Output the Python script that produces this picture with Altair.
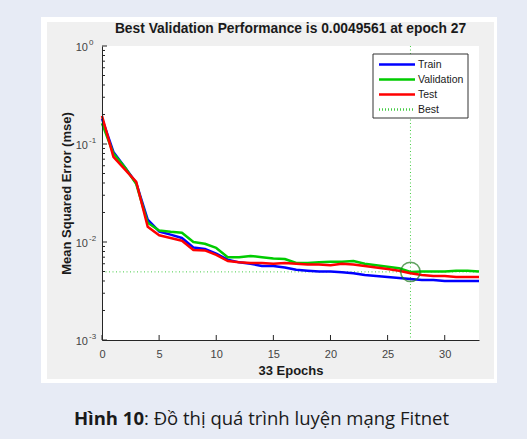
import altair as alt
import pandas as pd

# ---------------- data ----------------
epochs = list(range(34))
train = [0.182, 0.083, 0.058, 0.040, 0.0169, 0.0128, 0.0119, 0.0110, 0.0088, 0.0085,
         0.0076, 0.0066, 0.0062, 0.0060, 0.0057, 0.0057, 0.0055, 0.0052, 0.0051, 0.0050,
         0.0050, 0.0049, 0.0048, 0.0046, 0.0045, 0.0044, 0.0043, 0.0042, 0.0041, 0.0041,
         0.0040, 0.0040, 0.0040, 0.0040]
validation = [0.163, 0.080, 0.058, 0.039, 0.0157, 0.0131, 0.0127, 0.0124, 0.0100, 0.0096,
              0.0087, 0.0070, 0.0070, 0.0072, 0.0070, 0.0068, 0.0067, 0.0061, 0.0061, 0.0062,
              0.0063, 0.0063, 0.0064, 0.0060, 0.0058, 0.0056, 0.0054, 0.0049561, 0.0050, 0.0050,
              0.0050, 0.0051, 0.0051, 0.0050]
test = [0.194, 0.074, 0.055, 0.041, 0.0143, 0.0117, 0.0110, 0.0103, 0.0083, 0.0082,
        0.0074, 0.0064, 0.0062, 0.0061, 0.0061, 0.0060, 0.0061, 0.0060, 0.0059, 0.0059,
        0.0058, 0.0060, 0.0059, 0.0057, 0.0055, 0.0053, 0.0051, 0.0048, 0.0046, 0.0045,
        0.0045, 0.0044, 0.0044, 0.0044]
best_epoch = 27
best_value = 0.0049561
series_names = ["Train", "Validation", "Test", "Best"]
series_colors = ["#0000ff", "#00cc00", "#ff0000", "#44cc44"]
x_ticks = [0, 5, 10, 15, 20, 25, 30]
y_decades = [0.001, 0.01, 0.1, 1.0]
y_exponents = ["-3", "-2", "-1", "0"]
y_minor = [m * d for d in [0.001, 0.01, 0.1] for m in range(2, 10)]
title_text = "Best Validation Performance is 0.0049561 at epoch 27"
x_title = "33 Epochs"
y_title = "Mean Squared Error  (mse)"
caption_bold = "Hình 10"
caption_rest = ": Đồ thị quá trình luyện mạng Fitnet"

# ---------------- layout ----------------
W, H = 377, 294
FONT = "Liberation Sans"
xs = alt.Scale(domain=[0, 33], nice=False, zero=False)
ys = alt.Scale(type="log", domain=[0.001, 1], nice=False)
cs = alt.Scale(domain=series_names, range=series_colors)
one = pd.DataFrame({"k": [0]})


def rect(x1, x2, y1, y2, fill, stroke=None):
    kw = dict(fill=fill)
    if stroke:
        kw.update(stroke=stroke, strokeWidth=1)
    return alt.Chart(one).mark_rect(**kw).encode(
        x=alt.value(x1), x2=alt.value(x2), y=alt.value(y1), y2=alt.value(y2))


frame_white = rect(-61, 395, -29, 337, "#ffffff")
frame_gray = rect(-55, 392, -24, 333, "#f0f0f0")
plot_bg = rect(0, W, 0, H, "#ffffff")

xaxis = alt.Axis(values=x_ticks, ticks=False, grid=False, domainColor="#262626",
                 labelColor="#444444", labelFont=FONT, labelFontSize=11,
                 labelPadding=8, titleFont=FONT, titleFontSize=13,
                 titleFontWeight="bold", titleColor="#1a1a1a", titlePadding=5,
                 labelFlush=False, zindex=1, title=x_title)
yaxis = alt.Axis(labels=False, ticks=False, grid=False, domainColor="#262626",
                 titleFont=FONT, titleFontSize=13, titleFontWeight="bold",
                 titleColor="#1a1a1a", titlePadding=29, zindex=1, title=y_title)

# axes (domain lines + labels + titles)
axes = alt.Chart(one).mark_point(opacity=0).encode(
    x=alt.X("k:Q", scale=xs, axis=xaxis),
    y=alt.Y("k:Q", scale=ys, axis=yaxis),
)

# inward ticks
xt_df = pd.DataFrame({"v": x_ticks})
xticks = alt.Chart(xt_df).mark_rule(color="#262626", strokeWidth=1).encode(
    x=alt.X("v:Q", scale=xs, axis=xaxis), y=alt.value(H), y2=alt.value(H - 5))
ymaj_df = pd.DataFrame({"v": y_decades, "e": y_exponents})
ymaj = alt.Chart(ymaj_df).mark_rule(color="#262626", strokeWidth=1).encode(
    y=alt.Y("v:Q", scale=ys, axis=yaxis), x=alt.value(0), x2=alt.value(5))
ymin = alt.Chart(pd.DataFrame({"v": y_minor})).mark_rule(color="#262626", strokeWidth=1).encode(
    y=alt.Y("v:Q", scale=ys, axis=yaxis), x=alt.value(0), x2=alt.value(3))
ylab = alt.Chart(ymaj_df).mark_text(align="right", baseline="middle", font=FONT,
                                    fontSize=11, color="#444444", dy=2).encode(
    y=alt.Y("v:Q", scale=ys, axis=yaxis), x=alt.value(-14), text=alt.value("10"))
yexp = alt.Chart(ymaj_df).mark_text(align="left", baseline="middle", font=FONT,
                                    fontSize=8, color="#444444", dy=-3).encode(
    y=alt.Y("v:Q", scale=ys, axis=yaxis), x=alt.value(-13), text="e:N")

# best markers
vline = alt.Chart(pd.DataFrame({"x": [best_epoch]})).mark_rule(
    color="#44cc44", strokeWidth=1, strokeDash=[1, 2.5]).encode(
    x=alt.X("x:Q", scale=xs, axis=xaxis), y=alt.value(0), y2=alt.value(H))
hline = alt.Chart(pd.DataFrame({"x": [0], "x2": [33], "y": [best_value]})).mark_rule(
    color="#44cc44", strokeWidth=1, strokeDash=[1, 2.5]).encode(
    x=alt.X("x:Q", scale=xs, axis=xaxis), x2="x2:Q", y=alt.Y("y:Q", scale=ys, axis=yaxis))

# series lines
line_layers = []
for name, vals in [("Train", train), ("Validation", validation), ("Test", test)]:
    df = pd.DataFrame({"epoch": epochs, "mse": vals, "series": name})
    line_layers.append(
        alt.Chart(df).mark_line(strokeWidth=2.5, strokeJoin="round").encode(
            x=alt.X("epoch:Q", scale=xs, axis=xaxis),
            y=alt.Y("mse:Q", scale=ys, axis=yaxis),
            color=alt.Color("series:N", scale=cs, legend=None)))

circle = alt.Chart(pd.DataFrame({"x": [best_epoch], "y": [best_value]})).mark_point(
    shape="circle", size=380, filled=False, color="#1f7a1f", strokeWidth=1.5).encode(
    x=alt.X("x:Q", scale=xs, axis=xaxis), y=alt.Y("y:Q", scale=ys, axis=yaxis))

# legend
leg_df = pd.DataFrame({"name": series_names, "i": list(range(4))})
leg_box = rect(271, 366, 8, 72, "#ffffff", stroke="#333333")
leg_base = alt.Chart(leg_df).transform_calculate(ypx="18.5 + 15 * datum.i")
leg_lines = leg_base.mark_rule().encode(
    x=alt.value(277), x2=alt.value(313),
    y=alt.Y("ypx:Q", scale=None),
    color=alt.Color("name:N", scale=cs, legend=None),
    strokeDash=alt.StrokeDash("name:N", scale=alt.Scale(
        domain=series_names, range=[[1, 0], [1, 0], [1, 0], [1, 2]]), legend=None),
    strokeWidth=alt.StrokeWidth("name:N", scale=alt.Scale(
        domain=series_names, range=[2.5, 2.5, 2.5, 1]), legend=None))
leg_text = leg_base.mark_text(align="left", baseline="middle", font=FONT,
                              fontSize=10.5, color="#1a1a1a").encode(
    x=alt.value(316), y=alt.Y("ypx:Q", scale=None), text="name:N")

# title and caption
title = alt.Chart(one).mark_text(align="center", baseline="alphabetic", font=FONT,
                                 fontSize=13.8, fontWeight="bold", color="#1a1a1a").encode(
    x=alt.value(W / 2), y=alt.value(-13), text=alt.value(title_text))
cap1 = alt.Chart(one).mark_text(align="right", baseline="middle", font="Open Sans",
                                fontSize=18.5, fontWeight="bold", color="#1a1a1a").encode(
    x=alt.value(42), y=alt.value(373), text=alt.value(caption_bold))
cap2 = alt.Chart(one).mark_text(align="left", baseline="middle", font="Open Sans",
                                fontSize=18.5, color="#1a1a1a").encode(
    x=alt.value(42), y=alt.value(373), text=alt.value(caption_rest))

chart = alt.layer(
    frame_white, frame_gray, plot_bg, axes, xticks, ymaj, ymin, ylab, yexp,
    hline, vline, *line_layers, circle, leg_box, leg_lines, leg_text, title, cap1, cap2
).resolve_scale(strokeDash="independent", strokeWidth="independent").properties(
    width=W, height=H,
    autosize=alt.AutoSizeParams(type="none"),
    padding={"left": 102, "top": 46, "right": 48, "bottom": 99},
    background="#e7ebf5",
).configure_view(stroke=None)

chart.save("out.html", embed_options={"renderer": "svg", "actions": False})
